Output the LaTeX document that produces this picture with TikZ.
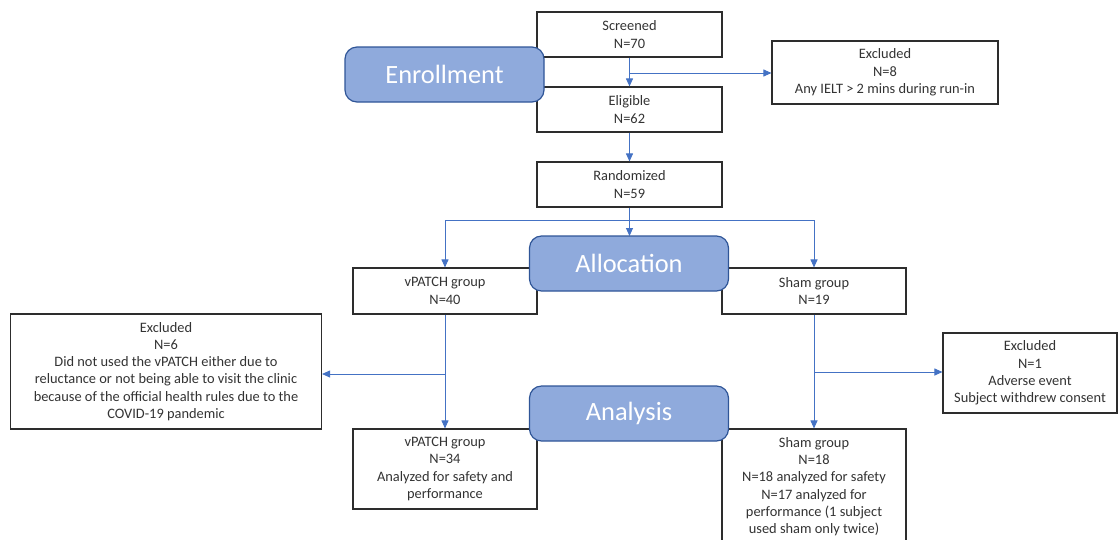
\documentclass[tikz,border=0pt]{standalone}
\usepackage{fontspec}
\setmainfont{Carlito}
\usetikzlibrary{arrows.meta}
\definecolor{boxline}{RGB}{45,45,45}
\definecolor{phasefill}{RGB}{143,170,220}
\definecolor{phaseline}{RGB}{47,85,151}
\definecolor{flowblue}{RGB}{68,114,196}
\tikzset{
  box/.style={draw=boxline,line width=1.1pt,fill=white,align=center,inner sep=0pt,text=black!80,font=\fontsize{14.4}{17.3}\selectfont},
  phase/.style={draw=phaseline,line width=1.2pt,fill=phasefill,rounded corners=12pt,text=white,inner sep=0pt,
    minimum width=199pt,minimum height=55pt,font=\fontsize{26.4}{28}\selectfont},
  flow/.style={draw=flowblue,line width=0.9pt,-{Triangle[length=8pt,width=7pt]}}
}
\begin{document}
\begin{tikzpicture}[x=1pt,y=-1pt]
  \clip (0,0) rectangle (1118,539);
  \node[box,minimum width=185pt,minimum height=45pt] (scr) at (629.5,34.5) {Screened\\N=70};
  \node[box,minimum width=185pt,minimum height=45pt] (eli) at (629.5,109.5) {Eligible\\N=62};
  \node[box,minimum width=185pt,minimum height=45pt] (rnd) at (629.5,184.5) {Randomized\\N=59};
  \node[box,minimum width=226pt,minimum height=63pt] (exc1) at (885,72.5) {Excluded\\N=8\\Any IELT > 2 mins during run-in};
  \node[box,minimum width=184pt,minimum height=46pt] (vp1) at (445,291) {vPATCH group\\N=40};
  \node[box,minimum width=184pt,minimum height=46pt] (sh1) at (814,291) {Sham group\\N=19};
  \node[box,minimum width=311pt,minimum height=115pt] (exc2) at (166,371.5) {Excluded\\N=6\\Did not used the vPATCH either due to\\reluctance or not being able to visit the clinic\\because of the official health rules due to the\\COVID-19 pandemic};
  \node[box,minimum width=174pt,minimum height=80pt] (exc3) at (1030,373) {Excluded\\N=1\\Adverse event\\Subject withdrew consent};
  \node[box,minimum width=184pt,minimum height=80pt] (vp2) at (445,469) {vPATCH group\\N=34\\Analyzed for safety and\\performance};
  \node[box,minimum width=184pt,minimum height=115pt] (sh2) at (814,486.5) {Sham group\\N=18\\N=18 analyzed for safety\\N=17 analyzed for\\performance (1 subject\\used sham only twice)};
  \coordinate (b1) at (629.5,73); \coordinate (split) at (629.5,220);
  \coordinate (b2) at (445,374); \coordinate (b3) at (814,372);
  \draw[flow] (scr) -- (eli); \draw[flow] (b1) -- (b1 -| exc1.west);
  \draw[flow] (eli) -- (rnd); \draw[flow] (rnd) -- (split) -- (629.5,236);
  \draw[flow] (split) -| (vp1.north); \draw[flow] (split) -| (sh1.north);
  \draw[flow] (vp1) -- (vp2); \draw[flow] (b2) -- (b2 -| exc2.east);
  \draw[flow] (sh1) -- (sh2); \draw[flow] (b3) -- (b3 -| exc3.west);
  \node[phase] (enr) at (444.5,74.5) {Enrollment};
  \node[phase] (alo) at (629,263.5) {Allocation};
  \node[phase] (ana) at (629,413.5) {Analysis};
\end{tikzpicture}
\end{document}
